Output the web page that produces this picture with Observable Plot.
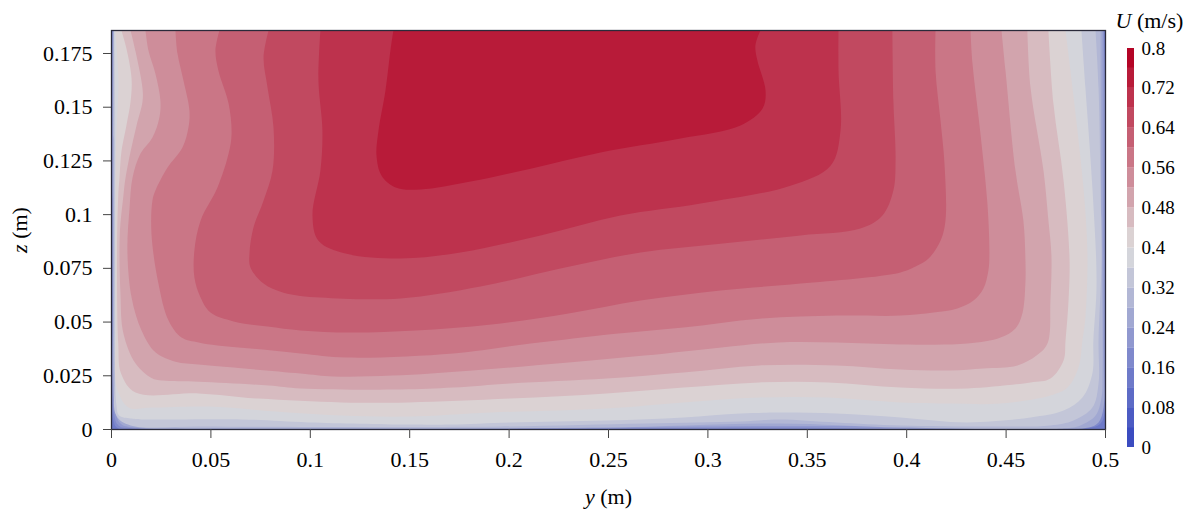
<!DOCTYPE html>
<html>
<head>
<meta charset="utf-8">
<script src="https://cdn.jsdelivr.net/npm/d3@7"></script>
<script src="https://cdn.jsdelivr.net/npm/@observablehq/plot@0.6"></script>
<style>
html,body{margin:0;padding:0;background:#fff}
#chart{position:relative;width:1192px;height:513px;overflow:hidden}
#chart svg{position:absolute;top:0;left:0;background:transparent;overflow:visible}
</style>
</head>
<body>
<div id="chart"></div>
<script>
const zTop = 0.1857;
const xTicks = [0,0.05,0.1,0.15,0.2,0.25,0.3,0.35,0.4,0.45,0.5];
const yTicks = [0,0.025,0.05,0.075,0.1,0.125,0.15,0.175];
const legendTicks = [0,0.08,0.16,0.24,0.32,0.4,0.48,0.56,0.64,0.72,0.8];
const bandEdges = [0.04,0.08,0.12,0.16,0.2,0.24,0.28,0.32,0.36,0.4,0.44,0.48,0.52,0.56,0.6,0.64,0.68,0.72,0.76];
const bandColors = ["#3b4cc0","#4c5bc3","#5d6bc6","#6e7ac9","#7f89cc","#9098cf","#a1a8d2","#b2b7d5","#c3c6d8","#d4d5db","#dbd2d3","#d7bbc0","#d2a4ad","#ce8d9a","#ca7686","#c55f73","#c14960","#bd324d","#b81b39","#b40426"];

// Each contour: [y (m), z (m)] points of the iso-velocity line.
const base012 = [[0,0],[0.5,0],[0.5,zTop],[0,zTop]];
const contour016 = [[.4995,zTop],[.4997,.0088],[.4975,.0028],[.4899,.0005],[.0035,.0005],[.0010,.0042],[.0003,.0600],[.0003,zTop]];
const contour020 = [[.4990,zTop],[.4995,.0135],[.4960,.0042],[.4874,.0009],[.3355,.0009],[.0121,.0005],[.0035,.0019],[.0012,.0079],[.0005,.0600],[.0005,zTop]];
const contour024 = [[.4985,zTop],[.4990,.0368],[.4990,.0102],[.4965,.0033],[.4914,.0009],[.4673,.0007],[.3355,.0016],[.1957,.0005],[.0121,.0009],[.0045,.0028],[.0016,.0112],[.0008,.0600],[.0008,zTop]];
const contour028 = [[.4975,zTop],[.4980,.0984],[.4985,.0261],[.4980,.0149],[.4950,.0065],[.4874,.0019],[.4789,.0005],[.3969,.0009],[.3355,.0028],[.2460,.0009],[.0951,.0008],[.0121,.0019],[.0055,.0042],[.0028,.0088],[.0016,.0158],[.0011,.1],[.0011,zTop]];
const contour032 = [[.4950,zTop],[.4965,.1591],[.4975,.1126],[.4980,.0786],[.4965,.0414],[.4965,.0214],[.4934,.0102],[.4839,.0042],[.4723,.0019],[.4472,.0014],[.3969,.0019],[.3647,.0033],[.3355,.0047],[.3164,.0037],[.2681,.0028],[.1957,.0014],[.0951,.0012],[.0448,.0014],[.0096,.0019],[.0024,.0065],[.0017,.0250],[.0014,.1],[.0014,zTop]];
const contour036 = [[.0014,zTop],[.0018,.1500],[.0018,.0833],[.0018,.0288],[.0025,.0112],[.0038,.0065],[.0096,.0051],[.0151,.0047],[.0654,.0047],[.0991,.0033],[.1494,.0023],[.1705,.0023],[.2007,.0033],[.2490,.0042],[.2877,.0056],[.3164,.0074],[.3355,.0079],[.3647,.0074],[.3969,.0056],[.4306,.0033],[.4623,.0056],[.4789,.0088],[.4884,.0149],[.4934,.0261],[.4939,.0414],[.4955,.0679],[.4934,.1126],[.4899,.1591],[.4879,zTop]];
const contour040 = [[.0019,zTop],[.0035,.1633],[.0030,.1480],[.0022,.1294],[.0021,.1066],[.0022,.0447],[.0027,.0195],[.0086,.0102],[.0201,.0102],[.0488,.0107],[.0825,.0084],[.1157,.0065],[.1494,.0060],[.1911,.0079],[.2490,.0098],[.2877,.0126],[.3259,.0149],[.3607,.0149],[.3969,.0126],[.4220,.0121],[.4472,.0121],[.4723,.0158],[.4809,.0195],[.4864,.0288],[.4884,.0414],[.4899,.0521],[.4909,.0819],[.4889,.1126],[.4834,.1591],[.4799,zTop]];
const contour044 = [[.0050,zTop],[.0075,.1773],[.0101,.1633],[.0096,.1526],[.0075,.1415],[.0050,.1294],[.0040,.1168],[.0034,.1089],[.0028,.0833],[.0034,.0400],[.0048,.0261],[.0121,.0172],[.0438,.0168],[.0739,.0144],[.1157,.0126],[.1494,.0126],[.2007,.0144],[.2490,.0168],[.2877,.0195],[.3259,.0219],[.3607,.0219],[.3969,.0195],[.4306,.0191],[.4623,.0219],[.4723,.0237],[.4789,.0321],[.4799,.0414],[.4814,.0600],[.4819,.0796],[.4789,.1159],[.4738,.1517],[.4713,zTop]];
const contour048 = [[.0096,zTop],[.0121,.1759],[.0156,.1587],[.0156,.1526],[.0126,.1415],[.0096,.1294],[.0070,.1168],[.0060,.1089],[.0042,.0912],[.0045,.0633],[.0060,.0447],[.0121,.0307],[.0201,.0240],[.0256,.0228],[.0438,.0222],[.0790,.0205],[.0951,.0191],[.1454,.0186],[.1720,.0195],[.2007,.0214],[.2490,.0237],[.2877,.0265],[.3259,.0298],[.3647,.0298],[.3969,.0279],[.4220,.0275],[.4386,.0284],[.4557,.0298],[.4653,.0344],[.4708,.0400],[.4723,.0600],[.4728,.0810],[.4713,.0972],[.4688,.1205],[.4623,.1591],[.4607,zTop]];
const contour052 = [[.0171,zTop],[.0186,.1763],[.0221,.1656],[.0246,.1531],[.0241,.1452],[.0206,.1359],[.0146,.1284],[.0106,.1173],[.0091,.1033],[.0080,.0833],[.0101,.0614],[.0151,.0461],[.0221,.0359],[.0322,.0315],[.0438,.0302],[.0614,.0288],[.0951,.0261],[.1117,.0247],[.1413,.0251],[.1816,.0275],[.2299,.0312],[.2681,.0344],[.3068,.0382],[.3355,.0405],[.3647,.0405],[.3969,.0396],[.4306,.0400],[.4472,.0428],[.4547,.0470],[.4582,.0540],[.4597,.0679],[.4597,.0796],[.4587,.0972],[.4547,.1205],[.4497,.1670],[.4477,zTop]];
const contour056 = [[.0322,zTop],[.0332,.1750],[.0362,.1624],[.0392,.1484],[.0387,.1405],[.0357,.1312],[.0282,.1219],[.0221,.1112],[.0206,.1066],[.0201,.0912],[.0236,.0679],[.0287,.0507],[.0352,.0428],[.0438,.0405],[.0533,.0391],[.0699,.0377],[.0951,.0354],[.1182,.0335],[.1720,.0354],[.2108,.0400],[.2550,.0447],[.2877,.0475],[.3259,.0516],[.3647,.0530],[.3969,.0530],[.4135,.0544],[.4255,.0563],[.4336,.0600],[.4386,.0656],[.4411,.0740],[.4416,.0819],[.4406,.1052],[.4371,.1377],[.4331,.1703],[.4321,zTop]];
const contour060 = [[.0543,zTop],[.0523,.1763],[.0538,.1670],[.0589,.1517],[.0604,.1377],[.0589,.1284],[.0533,.1126],[.0448,.0972],[.0417,.0833],[.0417,.0707],[.0448,.0614],[.0498,.0544],[.0614,.0503],[.0785,.0479],[.0951,.0461],[.1202,.0451],[.1529,.0461],[.1911,.0489],[.2299,.0540],[.2661,.0600],[.3063,.0647],[.3466,.0679],[.3969,.0731],[.4054,.0763],[.4110,.0796],[.4170,.0879],[.4195,.0972],[.4190,.1238],[.4170,.1438],[.4145,.1670],[.4145,zTop]];
const contour064 = [[.0790,zTop],[.0765,.1731],[.0785,.1591],[.0815,.1405],[.0810,.1205],[.0765,.1066],[.0714,.0940],[.0694,.0819],[.0699,.0754],[.0765,.0679],[.0865,.0637],[.1051,.0614],[.1454,.0610],[.1856,.0665],[.2258,.0749],[.2661,.0824],[.3063,.0865],[.3466,.0903],[.3767,.0935],[.3878,.0996],[.3933,.1112],[.3944,.1252],[.3933,.1531],[.3928,zTop]];
const contour068 = [[.1051,zTop],[.1041,.1624],[.1061,.1391],[.1051,.1205],[.1011,.0996],[.1041,.0879],[.1177,.0819],[.1454,.0796],[.1755,.0824],[.2158,.0903],[.2560,.0996],[.2963,.1052],[.3415,.1135],[.3617,.1228],[.3667,.1391],[.3657,.1670],[.3657,zTop]];
const contour072 = [[.1418,zTop],[.1403,.1763],[.1378,.1577],[.1343,.1391],[.1333,.1275],[.1358,.1182],[.1429,.1126],[.1554,.1117],[.1806,.1154],[.2108,.1214],[.2460,.1289],[.2862,.1354],[.3164,.1415],[.3275,.1494],[.3290,.1577],[.3249,.1717],[.3239,.1787],[.3264,zTop]];

const levels = [
  [0.12, base012],[0.16, contour016],[0.2, contour020],[0.24, contour024],[0.28, contour028],
  [0.32, contour032],[0.36, contour036],[0.4, contour040],[0.44, contour044],[0.48, contour048],
  [0.52, contour052],[0.56, contour056],[0.6, contour060],[0.64, contour064],[0.68, contour068],[0.72, contour072]
];
const table = levels.flatMap(([level, pts]) => pts.map(([y, z]) => ({level, y, z})));
const legendBands = bandColors.map((_, i) => ({lo: i ? bandEdges[i-1] : 0, hi: i < bandEdges.length ? bandEdges[i] : 0.8}));

const serif = '"Liberation Serif","Times New Roman",serif';
const colorScale = {type:"threshold", domain:bandEdges, range:bandColors};

const main = Plot.plot({
  width:1192, height:513,
  marginLeft:111, marginRight:87, marginTop:30, marginBottom:84,
  style:{fontFamily:serif, background:"transparent", color:"#000"},
  x:{domain:[0,0.5]},
  y:{domain:[0,zTop]},
  color:colorScale,
  marks:[
    Plot.line(table,{x:"y",y:"z",z:"level",fill:"level",stroke:"none",curve:"catmull-rom",clip:"frame"}),
    Plot.frame({stroke:"#2a2a3a",strokeWidth:1.3}),
    Plot.axisX({ticks:xTicks,tickFormat:d=>String(d),tickSize:9,tickPadding:13,fontSize:22,stroke:"#444",
      label:"y (m)",labelAnchor:"center",labelArrow:"none",labelOffset:74}),
    Plot.axisY({ticks:yTicks,tickFormat:d=>String(d),tickSize:8,tickPadding:11,fontSize:22,stroke:"#444",
      label:"z (m)",labelAnchor:"center",labelArrow:"none",labelOffset:100})
  ]
});

const legend = Plot.plot({
  width:80, height:513,
  marginLeft:15, marginRight:58, marginTop:48, marginBottom:66,
  style:{fontFamily:serif, background:"transparent", color:"#000"},
  x:{domain:[0,1],axis:null},
  y:{domain:[0,0.8]},
  color:colorScale,
  marks:[
    Plot.rect(legendBands,{x1:0,x2:1,y1:"lo",y2:"hi",fill:"lo"}),
    Plot.axisY({anchor:"right",ticks:legendTicks,tickFormat:d=>String(d),tickSize:0,tickPadding:7,fontSize:19,label:null}),
    Plot.text(["U (m/s)"],{frameAnchor:"top-left",dx:-12,dy:-28,text:d=>d,fontSize:22,textAnchor:"start",lineAnchor:"middle"})
  ]
});
legend.style.left = "1112px";

function italicize(svg, txt, sym, rest){
  d3.select(svg).selectAll("text").each(function(){
    if (this.textContent.trim() === txt) {
      const t = d3.select(this), host = t.select("tspan").empty() ? t : t.select("tspan");
      host.text(null);
      host.append("tspan").attr("font-style","italic").text(sym);
      host.append("tspan").text(rest);
    }
  });
}
italicize(main,"y (m)","y"," (m)");
italicize(main,"z (m)","z"," (m)");
italicize(legend,"U (m/s)","U"," (m/s)");

const c = document.getElementById("chart");
c.append(main, legend);
</script>
</body>
</html>
